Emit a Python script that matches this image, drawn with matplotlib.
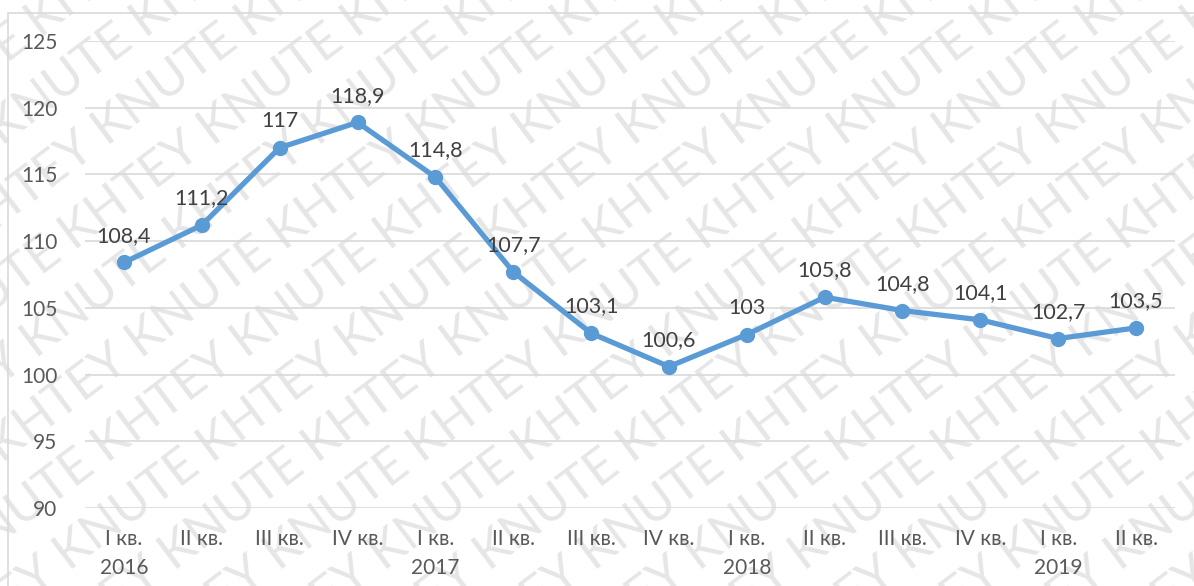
import matplotlib
matplotlib.use("Agg")
import matplotlib.pyplot as plt
from matplotlib.patches import Rectangle

quarters = ["I кв.", "II кв.", "III кв.", "IV кв.",
            "I кв.", "II кв.", "III кв.", "IV кв.",
            "I кв.", "II кв.", "III кв.", "IV кв.",
            "I кв.", "II кв."]
years = ["2016", "", "", "", "2017", "", "", "", "2018", "", "", "", "2019", ""]
values = [108.4, 111.2, 117, 118.9, 114.8, 107.7, 103.1, 100.6,
          103, 105.8, 104.8, 104.1, 102.7, 103.5]
yticks = [90, 95, 100, 105, 110, 115, 120, 125]
watermark = "KNUTE KHTEY "

plt.rcParams['font.family'] = ['Lato', 'DejaVu Sans']

fig = plt.figure(figsize=(11.94, 5.86), dpi=100)
fig.patch.set_facecolor("white")

# background watermark, clipped to the figure
bg = fig.add_axes([0, 0, 1, 1], zorder=-1)
bg.set_xlim(0, 1)
bg.set_ylim(0, 1)
bg.axis("off")
for i in range(-12, 16):
    bg.text(-0.35 + i * 0.088, -0.35, watermark * 6, rotation=37,
            fontsize=36, color="#e6e6e6", ha="left", va="bottom",
            rotation_mode="anchor", clip_on=True)

# chart area border (left and top visible)
fig.patches.append(Rectangle((8 / 1194, -0.1), 1.2, 1 - 13 / 586 + 0.1,
                             transform=fig.transFigure, fill=False,
                             edgecolor="#d9d9d9", linewidth=1.2))

ax = fig.add_axes([85 / 1194, 78 / 586, 1090 / 1194, 467 / 586], zorder=1)
ax.set_facecolor("none")
x = list(range(len(values)))
ax.plot(x, values, color="#5B9BD5", linewidth=3.8, marker="o",
        markersize=10, zorder=3)
for xi, v in zip(x, values):
    ax.annotate(f"{v:g}".replace(".", ","), (xi, v), xytext=(0, 12),
                textcoords="offset points", ha="center", va="bottom",
                fontsize=15.5, color="#404040")

ax.set_xlim(-0.5, len(values) - 0.5)
ax.set_ylim(90, 125)
ax.set_yticks(yticks)
ax.set_yticklabels([str(t) for t in yticks])
ax.set_xticks(x)
ax.set_xticklabels([q + "\n" + y if y else q for q, y in zip(quarters, years)],
                   linespacing=1.6, va="top")
ax.tick_params(axis="both", length=0, labelsize=15, labelcolor="#595959")
ax.tick_params(axis="y", pad=20)
ax.tick_params(axis="x", pad=15)
ax.grid(axis="y", color="#d9d9d9", linewidth=1.2)
for s in ax.spines.values():
    s.set_visible(False)

fig.savefig("out.png", dpi=100)
